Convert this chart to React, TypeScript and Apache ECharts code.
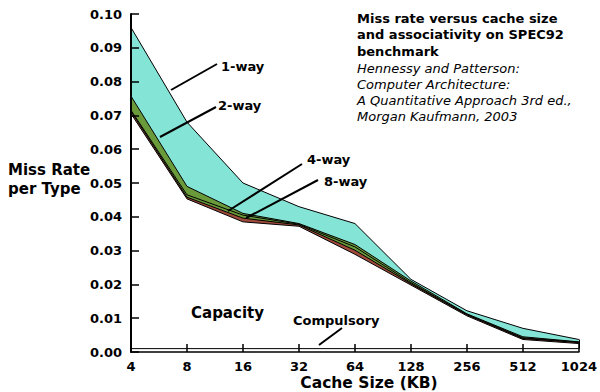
import React, { useEffect, useRef } from "react";
import * as echarts from "echarts";

const sizes = ["4", "8", "16", "32", "64", "128", "256", "512", "1024"];
const oneWay = [0.096, 0.068, 0.050, 0.043, 0.038, 0.0215, 0.0122, 0.0070, 0.0037];
const twoWay = [0.0757, 0.049, 0.041, 0.038, 0.0318, 0.021, 0.0113, 0.0045, 0.0030];
const fourWay = [0.0715, 0.0465, 0.0405, 0.0378, 0.0311, 0.0205, 0.0111, 0.0042, 0.0029];
const eightWay = [0.0712, 0.0458, 0.0396, 0.0376, 0.0301, 0.0202, 0.0110, 0.0040, 0.0028];
const capacity = [0.0705, 0.0453, 0.0385, 0.0372, 0.0289, 0.0198, 0.0107, 0.0037, 0.0025];
const compulsory = [0.001, 0.001, 0.001, 0.001, 0.001, 0.001, 0.001, 0.001, 0.001];

const FONT = "DejaVu Sans";

function areaSeries(name: string, data: number[], fill: string, z: number) {
  return {
    name,
    type: "line",
    data,
    symbol: "none",
    z,
    lineStyle: { color: "#000", width: 1 },
    areaStyle: { color: fill, opacity: 1 },
  };
}

export default function App() {
  const ref = useRef<HTMLDivElement>(null);
  useEffect(() => {
    if (!ref.current) return;
    const chart = echarts.init(ref.current, null, { renderer: "svg" });
    const lbl = (text: string, x: number, y: number, size = 13) => ({
      type: "text",
      x,
      y,
      z: 100,
      style: { text, font: `bold ${size}px "${FONT}"`, fill: "#000", textVerticalAlign: "middle" },
    });
    const ln = (x1: number, y1: number, x2: number, y2: number) => ({
      type: "line",
      shape: { x1, y1, x2, y2 },
      style: { stroke: "#000", lineWidth: 2 },
      z: 100,
    });
    chart.setOption({
      animation: false,
      backgroundColor: "#fff",
      grid: { left: 131, right: 19, top: 14, bottom: 40 },
      xAxis: {
        type: "category",
        data: sizes,
        boundaryGap: false,
        axisLine: { lineStyle: { color: "#000", width: 1.5 } },
        axisTick: { inside: true, length: 8, lineStyle: { color: "#000", width: 1.5 } },
        axisLabel: { fontFamily: FONT, fontWeight: "bold", fontSize: 13, color: "#000", margin: 8 },
        splitLine: { show: false },
        z: 20,
      },
      yAxis: {
        type: "value",
        min: 0,
        max: 0.1,
        interval: 0.01,
        axisLine: { show: true, lineStyle: { color: "#000", width: 2 } },
        axisTick: { show: true, inside: true, length: 8, lineStyle: { color: "#000", width: 1.5 } },
        axisLabel: {
          fontFamily: FONT,
          fontWeight: "bold",
          fontSize: 13,
          color: "#000",
          margin: 9,
          formatter: (v: number) => v.toFixed(2),
        },
        splitLine: { show: false },
        z: 20,
      },
      series: [
        areaSeries("1-way", oneWay, "#84e4d6", 2),
        areaSeries("2-way", twoWay, "#6a9a3a", 3),
        areaSeries("4-way", fourWay, "#6a9a3a", 4),
        areaSeries("8-way", eightWay, "#a04a3c", 5),
        areaSeries("Capacity", capacity, "#ffffff", 6),
        {
          ...areaSeries("Compulsory", compulsory, "#ffffff", 7),
          markLine: {
            silent: true,
            symbol: "none",
            label: { show: false },
            lineStyle: { color: "#000", width: 1, type: "solid" },
            data: [
              [
                { coord: [sizes[sizes.length - 1], compulsory[compulsory.length - 1]] },
                { coord: [sizes[sizes.length - 1], oneWay[oneWay.length - 1]] },
              ],
            ],
          },
        },
      ],
      graphic: [
        {
          type: "text",
          left: 8,
          top: 160,
          z: 100,
          style: {
            text: "Miss Rate\nper Type",
            font: `bold 15px "${FONT}"`,
            lineHeight: 19,
            fill: "#000",
          },
        },
        {
          type: "text",
          x: 369,
          y: 383,
          z: 100,
          style: {
            text: "Cache Size (KB)",
            font: `bold 15.5px "${FONT}"`,
            fill: "#000",
            textAlign: "center",
            textVerticalAlign: "middle",
          },
        },
        {
          type: "text",
          left: 357,
          top: 10,
          z: 100,
          style: {
            text: "Miss rate versus cache size\nand associativity on SPEC92\nbenchmark",
            font: `bold 13px "${FONT}"`,
            lineHeight: 16.5,
            fill: "#000",
          },
        },
        {
          type: "text",
          left: 357,
          top: 60,
          z: 100,
          style: {
            text: "Hennessy and Patterson:\nComputer Architecture:\nA Quantitative Approach 3rd ed.,\nMorgan Kaufmann, 2003",
            font: `italic 13px "${FONT}"`,
            lineHeight: 16,
            fill: "#000",
          },
        },
        lbl("1-way", 221, 66),
        lbl("2-way", 218, 105),
        lbl("4-way", 307, 159),
        lbl("8-way", 324, 181),
        lbl("Capacity", 191, 313, 15),
        lbl("Compulsory", 293, 320),
        ln(171, 90, 217, 64),
        ln(160, 137, 216, 107),
        ln(228, 211, 302, 164),
        ln(246, 218, 318, 180),
        ln(319, 345, 342, 328),
      ],
    });
    return () => chart.dispose();
  }, []);
  return <div ref={ref} style={{ width: 600, height: 392, position: "absolute", left: 0, top: 0 }} />;
}
